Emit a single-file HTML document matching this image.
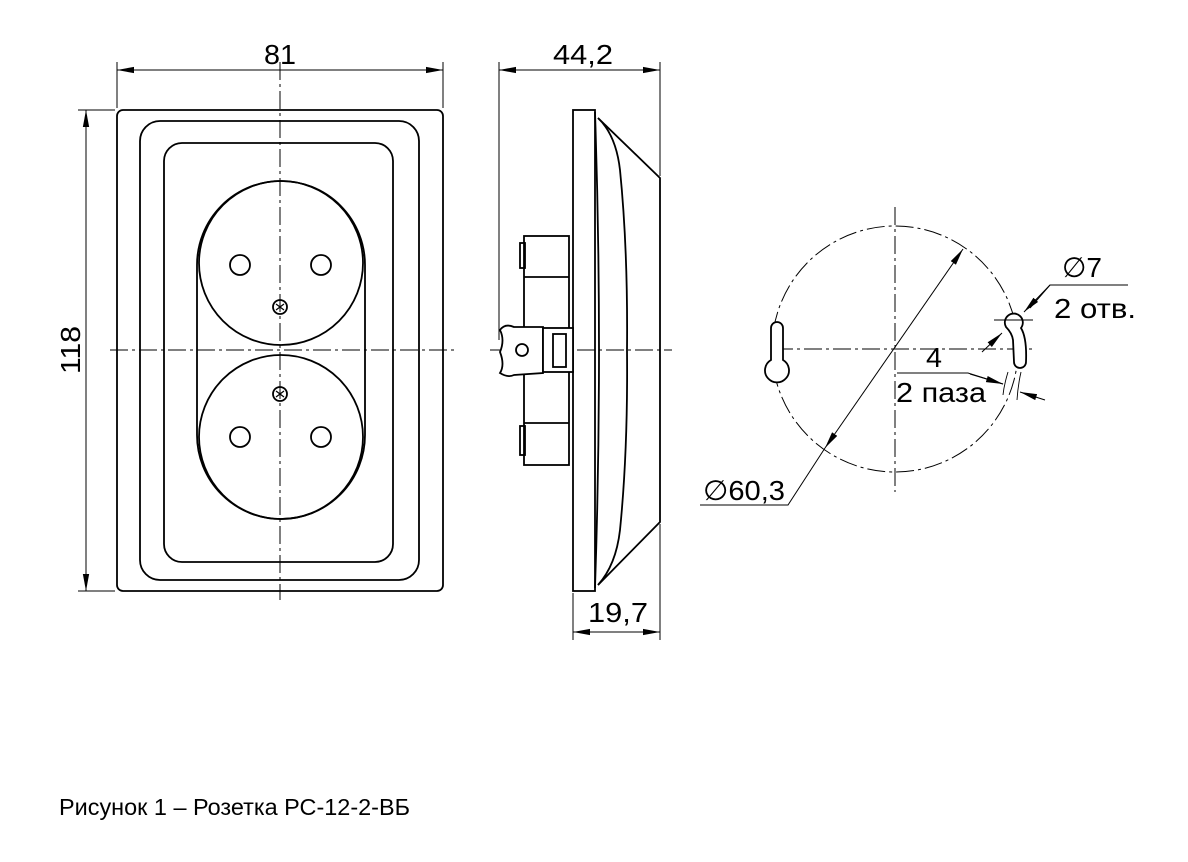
<!DOCTYPE html>
<html><head><meta charset="utf-8"><style>
html,body{margin:0;padding:0;background:#fff;}
svg{display:block;}
text{font-family:"Liberation Sans",sans-serif;fill:#000;}
</style></head><body>
<svg width="1188" height="862" viewBox="0 0 1188 862" xmlns="http://www.w3.org/2000/svg">
<defs>
<marker id="a" viewBox="0 0 10 10" refX="10" refY="5" markerWidth="17" markerHeight="7" markerUnits="userSpaceOnUse" orient="auto-start-reverse" preserveAspectRatio="none"><path d="M0,0.5 L10,5 L0,9.5 z" fill="#000"/></marker>
</defs>
<g fill="none" stroke="#000" stroke-width="1.8">
<rect x="117" y="110" width="326" height="481" rx="6"/>
<rect x="140" y="121" width="279" height="459" rx="20"/>
<rect x="164" y="143" width="229" height="419" rx="18"/>
<path d="M197,265 A84,84 0 0 1 365,265 L365,435 A84,84 0 0 1 197,435 Z"/>
<circle cx="281" cy="263" r="82"/>
<circle cx="281" cy="437" r="82"/>
<circle cx="240" cy="265" r="10"/><circle cx="321" cy="265" r="10"/>
<circle cx="240" cy="437" r="10"/><circle cx="321" cy="437" r="10"/>
<circle cx="280" cy="307" r="7"/><circle cx="280" cy="394" r="7"/>
<path d="M276,304 l8,6 M276,310 l8,-6 M276,391 l8,6 M276,397 l8,-6" stroke-width="1.2"/>
</g>
<g fill="none" stroke="#000" stroke-width="1" stroke-dasharray="18,4,3,4">
<line x1="110" y1="350" x2="455" y2="350"/>
<line x1="280" y1="62" x2="280" y2="600"/>
<line x1="490" y1="350" x2="672" y2="350"/>
<circle cx="895" cy="349" r="123"/>
<line x1="895" y1="207" x2="895" y2="492"/>
<line x1="775" y1="349" x2="1033" y2="349"/>
</g>
<g fill="none" stroke="#000" stroke-width="1.8">
<rect x="573" y="110" width="22" height="481"/>
<path d="M595,112 Q603,350 595,588"/>
<path d="M598,118 Q616,135 620,170 Q628,250 627,350 Q628,450 620,530 Q616,565 598,585"/>
<path d="M598,118 L660,178 L660,522 L598,585"/>
<rect x="524" y="236" width="45" height="229"/>
<line x1="524" y1="277" x2="569" y2="277"/><line x1="524" y1="423" x2="569" y2="423"/>
<rect x="520" y="243" width="5" height="25"/><rect x="520" y="426" width="5" height="29"/>
<path d="M543,327 L514,327 Q505,323 500,330 Q505,340 500,352 Q505,365 500,373 Q508,378 514,375 L543,373 Z" fill="#fff"/>
<circle cx="522" cy="350" r="6"/>
<rect x="543" y="328" width="30" height="44" fill="#fff"/>
<rect x="553" y="334" width="13" height="33"/>
</g>
<g fill="none" stroke="#000" stroke-width="1.8">
<path d="M771,328 A6,6 0 0 1 783,328 L783,360 A12,12 0 1 1 771,360 Z" fill="#fff"/>
<path d="M1006,327 A9,9 0 1 1 1021,328 Q1027,338 1026,362 A6,6 0 0 1 1014,362 L1013,340 Q1012,333 1006,327 Z" fill="#fff"/>
</g>
<g fill="none" stroke="#000" stroke-width="0.9">
<path d="M1008,372 Q1004,385 1003,395 M1021,372 Q1018,385 1017,400"/>
<line x1="994" y1="320" x2="1033" y2="320"/>
</g>
<g fill="none" stroke="#000" stroke-width="1">
<line x1="117" y1="62" x2="117" y2="108"/><line x1="443" y1="62" x2="443" y2="108"/>
<line x1="117" y1="70" x2="443" y2="70" marker-start="url(#a)" marker-end="url(#a)"/>
<line x1="78" y1="110" x2="115" y2="110"/><line x1="78" y1="591" x2="115" y2="591"/>
<line x1="86" y1="110" x2="86" y2="591" marker-start="url(#a)" marker-end="url(#a)"/>
<line x1="499" y1="62" x2="499" y2="340"/><line x1="660" y1="62" x2="660" y2="176"/>
<line x1="499" y1="70" x2="660" y2="70" marker-start="url(#a)" marker-end="url(#a)"/>
<line x1="573" y1="593" x2="573" y2="640"/><line x1="660" y1="524" x2="660" y2="640"/>
<line x1="573" y1="632" x2="660" y2="632" marker-start="url(#a)" marker-end="url(#a)"/>
<line x1="963" y1="249" x2="825" y2="448" marker-start="url(#a)" marker-end="url(#a)"/>
<polyline points="825,448 788,505 700,505"/>
<polyline points="1128,285 1050,285 1030,308"/>
<line x1="1050" y1="285" x2="1024" y2="312" marker-end="url(#a)"/>
<line x1="982" y1="352" x2="1002" y2="333" marker-end="url(#a)"/>
<polyline points="897,373 968,373 1003,384"/>
<line x1="970" y1="374" x2="1003" y2="384" marker-end="url(#a)"/>
<line x1="1045" y1="400" x2="1020" y2="392" marker-end="url(#a)"/>
</g>
<g font-size="28">
<text x="264" y="64" textLength="32" lengthAdjust="spacingAndGlyphs">81</text>
<text transform="translate(80,350) rotate(-90)" x="-24" textLength="48" lengthAdjust="spacingAndGlyphs">118</text>
<text x="553" y="64" textLength="60" lengthAdjust="spacingAndGlyphs">44,2</text>
<text x="588" y="622" textLength="60" lengthAdjust="spacingAndGlyphs">19,7</text>
<text x="703" y="500" textLength="82" lengthAdjust="spacingAndGlyphs">∅60,3</text>
<text x="1062" y="277" textLength="40" lengthAdjust="spacingAndGlyphs">∅7</text>
<text x="1054" y="318" textLength="82" lengthAdjust="spacingAndGlyphs">2 отв.</text>
<text x="926" y="367" textLength="16" lengthAdjust="spacingAndGlyphs">4</text>
<text x="896" y="402" textLength="90" lengthAdjust="spacingAndGlyphs">2 паза</text>
</g>
<text x="59" y="815" font-size="23" textLength="351" lengthAdjust="spacingAndGlyphs">Рисунок 1 – Розетка РС-12-2-ВБ</text>
</svg>
</body></html>
